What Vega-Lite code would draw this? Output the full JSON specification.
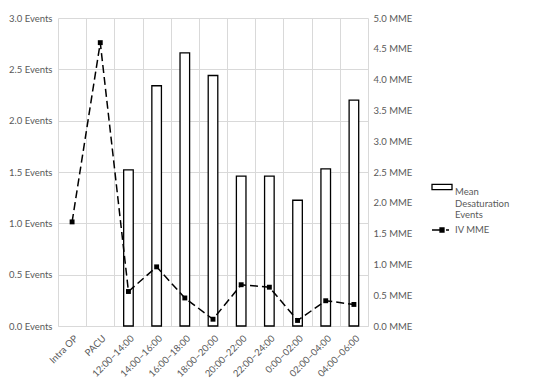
{
  "$schema": "https://vega.github.io/schema/vega-lite/v6.json",
  "autosize": "none",
  "width": 310,
  "height": 308,
  "padding": {"left": 58, "top": 18, "right": 182, "bottom": 57},
  "background": "white",
  "config": {
    "view": {"stroke": null},
    "font": "Lato",
    "axis": {"labelFont": "Lato", "labelFontSize": 9.5, "labelColor": "#595959", "ticks": false, "domain": false, "gridColor": "#d9d9d9", "gridWidth": 1, "title": null, "labelOverlap": false},
    "legend": {"labelFont": "Lato", "labelFontSize": 9.5, "labelColor": "#595959", "title": null, "orient": "none", "symbolSize": 400, "symbolStrokeWidth": 1.3, "labelOffset": 2}
  },
  "data": {"values": [
    {"cat": "Intra OP", "events": null, "mme": 1.69},
    {"cat": "PACU", "events": null, "mme": 4.60},
    {"cat": "12:00–14:00", "events": 1.52, "mme": 0.56},
    {"cat": "14:00–16:00", "events": 2.34, "mme": 0.96},
    {"cat": "16:00–18:00", "events": 2.66, "mme": 0.455},
    {"cat": "18:00–20:00", "events": 2.44, "mme": 0.11},
    {"cat": "20:00–22:00", "events": 1.46, "mme": 0.67},
    {"cat": "22:00–24:00", "events": 1.46, "mme": 0.63},
    {"cat": "0:00–02:00", "events": 1.225, "mme": 0.09},
    {"cat": "02:00–04:00", "events": 1.53, "mme": 0.41},
    {"cat": "04:00–06:00", "events": 2.20, "mme": 0.35}
  ]},
  "encoding": {
    "x": {"field": "cat", "type": "nominal", "sort": null,
      "scale": {"paddingInner": 0, "paddingOuter": 0, "domain": ["Intra OP", "PACU", "12:00–14:00", "14:00–16:00", "16:00–18:00", "18:00–20:00", "20:00–22:00", "22:00–24:00", "0:00–02:00", "02:00–04:00", "04:00–06:00"]},
      "axis": {"labelAngle": -45, "tickBand": "extent", "grid": true, "labelPadding": 7, "domain": true, "domainColor": "#d9d9d9"}}
  },
  "layer": [
    {
      "mark": {"type": "bar", "fill": "white", "stroke": "black", "strokeWidth": 1.3, "width": {"band": 0.34}},
      "encoding": {
        "y": {"field": "events", "type": "quantitative",
          "scale": {"domain": [0, 3], "nice": false},
          "axis": {"values": [0, 0.5, 1, 1.5, 2, 2.5, 3], "labelExpr": "format(datum.value, '.1f') + ' Events'", "grid": true, "labelPadding": 6}}
      }
    },
    {
      "encoding": {
        "y": {"field": "mme", "type": "quantitative",
          "scale": {"domain": [0, 5], "nice": false},
          "axis": {"orient": "right", "values": [0, 0.5, 1, 1.5, 2, 2.5, 3, 3.5, 4, 4.5, 5], "labelExpr": "format(datum.value, '.1f') + ' MME'", "grid": false, "labelPadding": 5}}
      },
      "layer": [
        {
          "mark": {"type": "line", "stroke": "black", "strokeWidth": 1.5, "strokeDash": [8, 4]}
        },
        {
          "mark": {"type": "point", "shape": "square", "filled": true, "color": "black", "size": 24, "opacity": 1}
        },
        {
          "transform": [{"filter": "false"}],
          "mark": {"type": "point", "filled": true, "strokeWidth": 1.3, "size": 400, "opacity": 1},
          "encoding": {
            "shape": {"field": "s1", "type": "nominal",
              "scale": {"domain": ["Mean Desaturation Events"], "range": ["M-1,-0.27H1V0.27H-1Z"]},
              "legend": {"legendX": 373, "legendY": 158, "labelBaseline": "top",
                "labelExpr": "['Mean', 'Desaturation', 'Events']"}},
            "fill": {"field": "s1", "type": "nominal",
              "scale": {"domain": ["Mean Desaturation Events"], "range": ["white"]},
              "legend": {"legendX": 373, "legendY": 158, "labelBaseline": "top",
                "labelExpr": "['Mean', 'Desaturation', 'Events']"}},
            "stroke": {"field": "s1", "type": "nominal",
              "scale": {"domain": ["Mean Desaturation Events"], "range": ["black"]},
              "legend": {"legendX": 373, "legendY": 158, "labelBaseline": "top",
                "labelExpr": "['Mean', 'Desaturation', 'Events']"}}
          }
        },
        {
          "transform": [{"filter": "false"}],
          "mark": {"type": "point", "filled": true, "strokeWidth": 1.3, "size": 400, "opacity": 1},
          "encoding": {
            "shape": {"field": "s2", "type": "nominal",
              "scale": {"domain": ["IV MME"], "range": ["M-1,0H-0.2M-0.2,-0.2H0.2V0.2H-0.2ZM0.4,0H0.7"]},
              "legend": {"legendX": 373, "legendY": 201, "labelBaseline": "middle"}},
            "fill": {"field": "s2", "type": "nominal",
              "scale": {"domain": ["IV MME"], "range": ["black"]},
              "legend": {"legendX": 373, "legendY": 201, "labelBaseline": "middle"}},
            "stroke": {"field": "s2", "type": "nominal",
              "scale": {"domain": ["IV MME"], "range": ["black"]},
              "legend": {"legendX": 373, "legendY": 201, "labelBaseline": "middle"}}
          }
        }
      ],
      "resolve": {"scale": {"shape": "independent", "fill": "independent", "stroke": "independent"}, "legend": {"shape": "independent", "fill": "independent", "stroke": "independent"}}
    }
  ],
  "resolve": {"scale": {"y": "independent"}}
}
